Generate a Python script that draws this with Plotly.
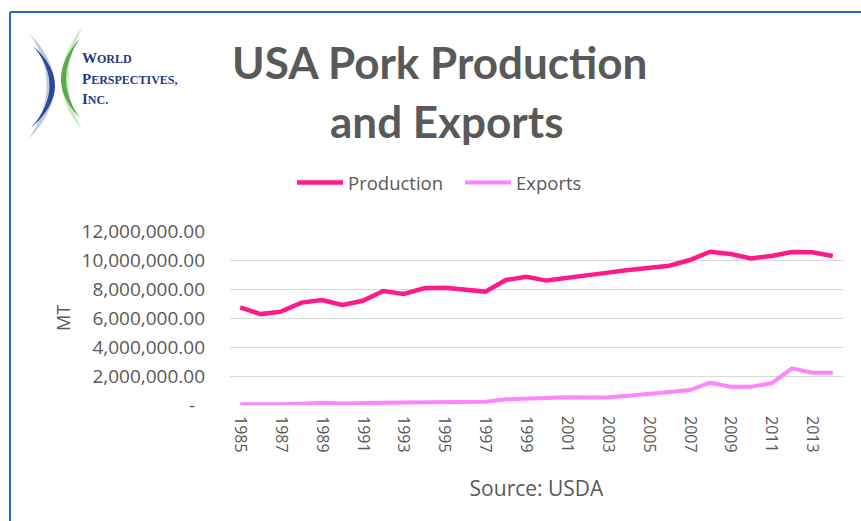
import plotly.graph_objects as go

# Annual US pork figures, metric tonnes
years = list(range(1985, 2015))
production = [6.74e6, 6.27e6, 6.44e6, 7.06e6, 7.24e6, 6.90e6, 7.19e6, 7.86e6, 7.66e6, 8.05e6,
              8.09e6, 7.93e6, 7.82e6, 8.62e6, 8.85e6, 8.58e6, 8.74e6, 8.97e6, 9.13e6, 9.31e6,
              9.43e6, 9.61e6, 10.00e6, 10.57e6, 10.41e6, 10.11e6, 10.28e6, 10.55e6, 10.53e6, 10.28e6]
exports = [0.05e6, 0.04e6, 0.05e6, 0.09e6, 0.15e6, 0.10e6, 0.10e6, 0.15e6, 0.17e6, 0.18e6,
           0.20e6, 0.23e6, 0.23e6, 0.39e6, 0.44e6, 0.51e6, 0.53e6, 0.51e6, 0.53e6, 0.64e6,
           0.80e6, 0.90e6, 1.03e6, 1.54e6, 1.26e6, 1.26e6, 1.50e6, 2.53e6, 2.23e6, 2.23e6]

y_tickvals = [0, 2e6, 4e6, 6e6, 8e6, 10e6, 12e6]
y_ticktext = ["-\u00a0\u00a0", "2,000,000.00", "4,000,000.00", "6,000,000.00",
              "8,000,000.00", "10,000,000.00", "12,000,000.00"]
x_tickvals = years[::2]
x_ticktext = [str(y) for y in x_tickvals]

GREY = "#595959"
FONT = "Open Sans"
TITLE_FONT = "Lato"

W, H = 861, 521
ML, MR, MT_, MB = 230, 18, 231, 116
PW, PH = W - ML - MR, H - MT_ - MB


def px(x):
    return (x - ML) / PW


def py(y):
    return (H - MB - y) / PH


fig = go.Figure()
fig.add_trace(go.Scatter(x=years, y=production, name="Production", mode="lines",
                         line=dict(color="#FF1A8A", width=4.5)))
fig.add_trace(go.Scatter(x=years, y=exports, name="Exports", mode="lines",
                         line=dict(color="#FF85FF", width=4)))

shapes = []
# frame lines (top and left)
shapes.append(dict(type="line", xref="paper", yref="paper", x0=px(10), x1=px(861), y0=py(12), y1=py(12),
                   line=dict(color="#2F68C4", width=2)))
shapes.append(dict(type="line", xref="paper", yref="paper", x0=px(10), x1=px(10), y0=py(12), y1=py(521),
                   line=dict(color="#2F68C4", width=2)))


def crescent(top, bottom, c_outer, c_inner, color, opacity):
    p = (f"M {px(top[0])},{py(top[1])} "
         f"Q {px(c_outer[0])},{py(c_outer[1])} {px(bottom[0])},{py(bottom[1])} "
         f"Q {px(c_inner[0])},{py(c_inner[1])} {px(top[0])},{py(top[1])} Z")
    return dict(type="path", xref="paper", yref="paper", path=p, fillcolor=color,
                opacity=opacity, line=dict(width=0))


# logo arcs
shapes.append(crescent((30, 34), (28, 140), (80, 86), (64, 86), "#8A9BD0", 0.55))
shapes.append(crescent((33, 46), (31, 128), (78, 86), (67, 86), "#1C3A8E", 0.9))
shapes.append(crescent((83, 26), (82, 130), (40, 80), (54, 80), "#A8D49A", 0.55))
shapes.append(crescent((80, 38), (80, 118), (42, 80), (52, 80), "#4BA33A", 0.9))

annotations = [
    dict(text="USA Pork Production", x=px(439), y=py(62), xref="paper", yref="paper",
         xanchor="center", yanchor="middle", showarrow=False,
         font=dict(family=TITLE_FONT, size=44, color=GREY, weight="bold")),
    dict(text="and Exports", x=px(446), y=py(121), xref="paper", yref="paper",
         xanchor="center", yanchor="middle", showarrow=False,
         font=dict(family=TITLE_FONT, size=44, color=GREY, weight="bold")),
]
logo_font = dict(family="Liberation Serif", size=15, color="#1F3A82", weight="bold")
for txt, yy in [("W<span style='font-size:12px'>ORLD</span>", 58),
                ("P<span style='font-size:12px'>ERSPECTIVES,</span>", 79),
                ("I<span style='font-size:12px'>NC.</span>", 99)]:
    annotations.append(dict(text=txt, x=px(80), y=py(yy), xref="paper", yref="paper",
                            xanchor="left", yanchor="middle", showarrow=False, font=logo_font))

fig.update_layout(
    width=W, height=H,
    margin=dict(l=ML, r=MR, t=MT_, b=MB),
    paper_bgcolor="white", plot_bgcolor="white",
    font=dict(family=FONT, color=GREY),
    showlegend=True,
    legend=dict(orientation="h", x=px(292), y=py(183), xanchor="left", yanchor="middle",
                font=dict(family=FONT, size=18.5, color=GREY), itemwidth=46,
                entrywidth=107, bgcolor="rgba(0,0,0,0)"),
    shapes=shapes,
    annotations=annotations,
    xaxis=dict(range=[1984.5, 2014.5], tickvals=x_tickvals, ticktext=x_ticktext,
               tickangle=90, tickfont=dict(family=FONT, size=16, color=GREY),
               showgrid=False, zeroline=False, showline=False, ticks="",
               ticklabelstandoff=10,
               title=dict(text="Source: USDA", font=dict(family=FONT, size=21, color=GREY), standoff=29)),
    yaxis=dict(range=[0, 12e6], tickvals=y_tickvals, ticktext=y_ticktext,
               tickfont=dict(family=FONT, size=19, color=GREY),
               showgrid=True, gridcolor="#D9D9D9", gridwidth=1.2, zeroline=False, showline=False,
               ticks="", ticklabelstandoff=24,
               title=dict(text="MT", font=dict(family=FONT, size=18, color=GREY), standoff=6)),
)

fig.write_html("out.html")
